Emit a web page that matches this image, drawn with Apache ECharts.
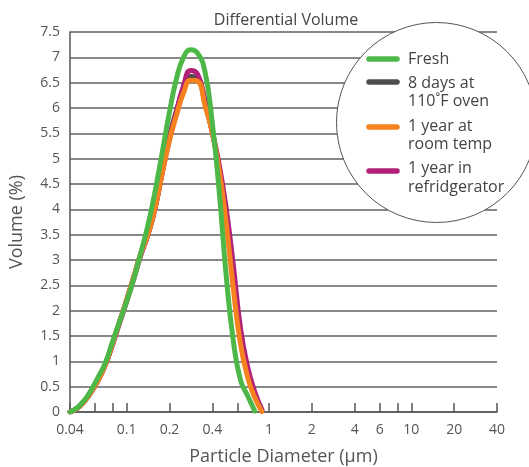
<!DOCTYPE html>
<html><head><meta charset="utf-8">
<script src="https://cdn.jsdelivr.net/npm/echarts@6/dist/echarts.min.js"></script>
<style>html,body{margin:0;padding:0;background:#fff;overflow:hidden}#c{width:529px;height:467px}</style>
</head><body><div id="c"></div>
<script>
const chartTitle = 'Differential Volume';
const xName = 'Particle Diameter (µm)';
const yName = 'Volume (%)';
const seriesNames = ['Fresh', '8 days at\n110˚F oven', '1 year at\nroom temp', '1 year in\nrefridgerator'];
const seriesColors = ['#4db848', '#4d4d4f', '#f5821f', '#b2207a'];
const xTickValues = [0.04, 0.06, 0.08, 0.1, 0.2, 0.4, 0.6, 1, 2, 4, 6, 8, 10, 20, 40];
const xLabelValues = [0.04, 0.1, 0.2, 0.4, 1, 2, 4, 6, 10, 20, 40];

// particle diameters (µm), log-spaced
const diameters = [0.04, 0.0447, 0.0501, 0.0562, 0.0631, 0.0708, 0.0794, 0.0891, 0.1, 0.112, 0.126, 0.141, 0.158, 0.178, 0.2, 0.224, 0.251, 0.282, 0.316, 0.355, 0.398, 0.447, 0.501, 0.562, 0.631, 0.708, 0.794, 0.891];
// volume (%) per series
const freshVol  = [0, 0.08, 0.22, 0.43, 0.69, 0.97, 1.38, 1.78, 2.18, 2.62, 3.15, 3.68, 4.34, 5.13, 5.92, 6.58, 7.0, 7.15, 7.08, 6.72, 5.75, 4.35, 2.68, 1.4, 0.63, 0.32, 0.02, null];
const ovenVol   = [0, 0.07, 0.2, 0.39, 0.63, 0.93, 1.34, 1.78, 2.21, 2.66, 3.13, 3.5, 4.01, 4.75, 5.45, 5.95, 6.38, 6.62, 6.58, 6.1, 5.55, 4.82, 3.85, 2.65, 1.5, 0.8, 0.35, 0.04];
const roomVol   = [0, 0.07, 0.2, 0.39, 0.63, 0.93, 1.34, 1.78, 2.21, 2.66, 3.13, 3.5, 4.01, 4.72, 5.36, 5.86, 6.3, 6.55, 6.53, 6.05, 5.54, 4.77, 3.72, 2.43, 1.34, 0.69, 0.29, 0.01];
const fridgeVol = [0, 0.07, 0.2, 0.39, 0.63, 0.93, 1.32, 1.75, 2.18, 2.62, 3.1, 3.5, 4.01, 4.72, 5.39, 5.92, 6.44, 6.74, 6.66, 6.16, 5.55, 4.88, 4.01, 2.89, 1.65, 0.89, 0.4, 0.05];

const FONT = '"Open Sans", "Noto Sans", sans-serif';
const zip = v => diameters.map((d, i) => [d, v[i]]).filter(p => p[1] !== null);
const seriesData = [zip(freshVol), zip(ovenVol), zip(roomVol), zip(fridgeVol)];
const drawOrder = [1, 3, 2, 0];

const chart = echarts.init(document.getElementById('c'), null, {renderer: 'canvas'});

const legendTextY = [[59], [83, 101], [126, 144], [168, 187]];
const legendMarkY = [59, 82, 127, 171];
const graphics = [{
  type: 'circle', shape: {cx: 436.5, cy: 122.5, r: 100}, z: 100,
  style: {fill: '#fff', stroke: '#555', lineWidth: 1}
}];
seriesNames.forEach((name, i) => {
  graphics.push({
    type: 'line', z: 101, shape: {x1: 369, y1: legendMarkY[i], x2: 397, y2: legendMarkY[i]},
    style: {stroke: seriesColors[i], lineWidth: 5.5, lineCap: 'round'}
  });
  name.split('\n').forEach((line, j) => {
    graphics.push({
      type: 'text', z: 101, x: 408, y: legendTextY[i][j],
      style: {text: line, fill: '#444', font: '16px ' + FONT, verticalAlign: 'middle'}
    });
  });
});

chart.setOption({
  animation: false,
  backgroundColor: '#fff',
  title: {text: chartTitle, left: 281, top: 7, textAlign: 'center',
    textStyle: {fontFamily: FONT, fontSize: 16, fontWeight: 'normal', color: '#444'}},
  grid: {left: 70, right: 32, top: 32, bottom: 55, containLabel: false, outerBoundsMode: 'none'},
  xAxis: {
    type: 'log', logBase: 10, min: 0.04, max: 40,
    name: xName, nameLocation: 'middle', nameGap: 36,
    nameTextStyle: {fontFamily: FONT, fontSize: 18, color: '#555'},
    axisLine: {show: true, lineStyle: {color: '#555', width: 1.5}},
    axisTick: {show: true, inside: true, length: 9, customValues: xTickValues, lineStyle: {color: '#555', width: 1.5}},
    minorTick: {show: false},
    axisLabel: {customValues: xLabelValues, color: '#555', fontSize: 14, fontFamily: FONT, margin: 11,
      formatter: v => String(+Number(v).toPrecision(3))},
    splitLine: {show: false}
  },
  yAxis: {
    type: 'value', min: 0, max: 7.5, interval: 0.5,
    name: yName, nameLocation: 'middle', nameGap: 44, nameRotate: 90,
    nameTextStyle: {fontFamily: FONT, fontSize: 18, color: '#555'},
    axisLine: {show: true, lineStyle: {color: '#555', width: 1.5}},
    axisTick: {show: false},
    axisLabel: {color: '#555', fontSize: 14, fontFamily: FONT, margin: 10},
    splitLine: {show: true, lineStyle: {color: '#606060', width: 1.5}}
  },
  series: drawOrder.map(i => ({
    name: seriesNames[i], type: 'line', data: seriesData[i],
    showSymbol: false, smooth: 0.5,
    lineStyle: {color: seriesColors[i], width: 5, cap: 'round', join: 'round'},
    itemStyle: {color: seriesColors[i]}
  })),
  graphic: graphics
});
</script></body></html>
